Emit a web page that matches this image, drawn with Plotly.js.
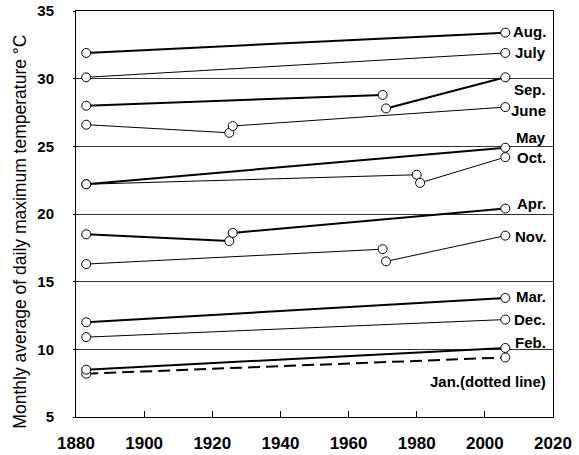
<!DOCTYPE html>
<html><head><meta charset="utf-8">
<script src="https://cdn.plot.ly/plotly-3.0.1.min.js"></script>
<style>html,body{margin:0;padding:0;background:#fff}#c{width:579px;height:455px}</style>
</head><body><div id="c"></div>
<script>
// Years of observation (start / end)
const years = [1883, 2006];
const augT = [31.9, 33.4];
const julyT = [30.1, 31.9];
const sepX1 = [1883, 1970], sepT1 = [28.0, 28.8];
const sepX2 = [1971, 2006], sepT2 = [27.8, 30.1];
const juneX1 = [1883, 1925], juneT1 = [26.6, 26.0];
const juneX2 = [1926, 2006], juneT2 = [26.5, 27.9];
const mayT = [22.2, 24.9];
const octX1 = [1883, 1980], octT1 = [22.2, 22.9];
const octX2 = [1981, 2006], octT2 = [22.3, 24.2];
const aprX1 = [1883, 1925], aprT1 = [18.5, 18.0];
const aprX2 = [1926, 2006], aprT2 = [18.6, 20.4];
const novX1 = [1883, 1970], novT1 = [16.3, 17.4];
const novX2 = [1971, 2006], novT2 = [16.5, 18.4];
const marT = [12.0, 13.8];
const decT = [10.9, 12.2];
const febT = [8.5, 10.1];
const janT = [8.2, 9.4];

const labels = ["Aug.", "July", "Sep.", "June", "May", "Oct.", "Apr.", "Nov.", "Mar.", "Dec.", "Feb.", "Jan.(dotted line)"];
const labelY = [33.45, 31.9, 29.2, 27.65, 25.65, 24.2, 20.8, 18.35, 13.9, 12.2, 10.5, 7.65];
const yTitle = 'Monthly average of daily maximum temperature °C';

const xTicks = [1880, 1900, 1920, 1940, 1960, 1980, 2000, 2020];
const yTicks = [5, 10, 15, 20, 25, 30, 35];

function tr(x, y, w, dash) {
  return {x: x, y: y, type: 'scatter', mode: 'lines+markers', showlegend: false, cliponaxis: false,
    line: {color: '#000', width: w, dash: dash || 'solid'},
    marker: {symbol: 'circle', size: 9, color: '#fff', line: {color: '#000', width: 1}}};
}
const data = [
  tr(years, janT, 2, '12px,6px'),
  tr(years, febT, 2),
  tr(years, decT, 1),
  tr(years, marT, 2),
  tr(novX1, novT1, 1), tr(novX2, novT2, 1),
  tr(aprX1, aprT1, 2), tr(aprX2, aprT2, 2),
  tr(octX1, octT1, 1), tr(octX2, octT2, 1),
  tr(years, mayT, 2),
  tr(juneX1, juneT1, 1), tr(juneX2, juneT2, 1),
  tr(sepX1, sepT1, 2), tr(sepX2, sepT2, 2),
  tr(years, julyT, 1),
  tr(years, augT, 2)
];

const annotations = labels.map((t, i) => ({
  x: 2018.6, y: labelY[i], xref: 'x', yref: 'y', text: t, showarrow: false,
  xanchor: 'right', yanchor: 'middle',
  font: {family: 'Liberation Sans, Arial, sans-serif', size: 15, color: '#000', weight: 'bold'}
}));
annotations.push({
  x: -0.117, y: 0.457, xref: 'paper', yref: 'paper', text: yTitle, showarrow: false,
  textangle: -90, xanchor: 'center', yanchor: 'middle',
  font: {family: 'Liberation Sans, Arial, sans-serif', size: 17.5, color: '#000'}
});

const layout = {
  width: 579, height: 455,
  margin: {l: 76, r: 26, t: 11, b: 38, pad: 0},
  paper_bgcolor: '#fff', plot_bgcolor: '#fff',
  font: {family: 'Liberation Sans, Arial, sans-serif', color: '#000'},
  xaxis: {range: [1880, 2020], tickvals: xTicks, ticktext: xTicks.map(String),
    showgrid: false, zeroline: false, showline: true, linecolor: '#000', linewidth: 1, mirror: true,
    ticks: 'inside', ticklen: 6, tickcolor: '#000',
    tickfont: {size: 17, weight: 'bold', color: '#000'}, ticklabelstandoff: 11},
  yaxis: {range: [5, 35], tickvals: yTicks, ticktext: yTicks.map(String),
    showgrid: true, gridcolor: '#333', gridwidth: 1, zeroline: false,
    showline: true, linecolor: '#000', linewidth: 1, mirror: true,
    ticks: 'outside', ticklen: 2, tickcolor: '#000',
    tickfont: {size: 15, weight: 'bold', color: '#000'}, ticklabelstandoff: 16},
  annotations: annotations
};
Plotly.newPlot('c', data, layout, {staticPlot: true, displayModeBar: false});
</script></body></html>
